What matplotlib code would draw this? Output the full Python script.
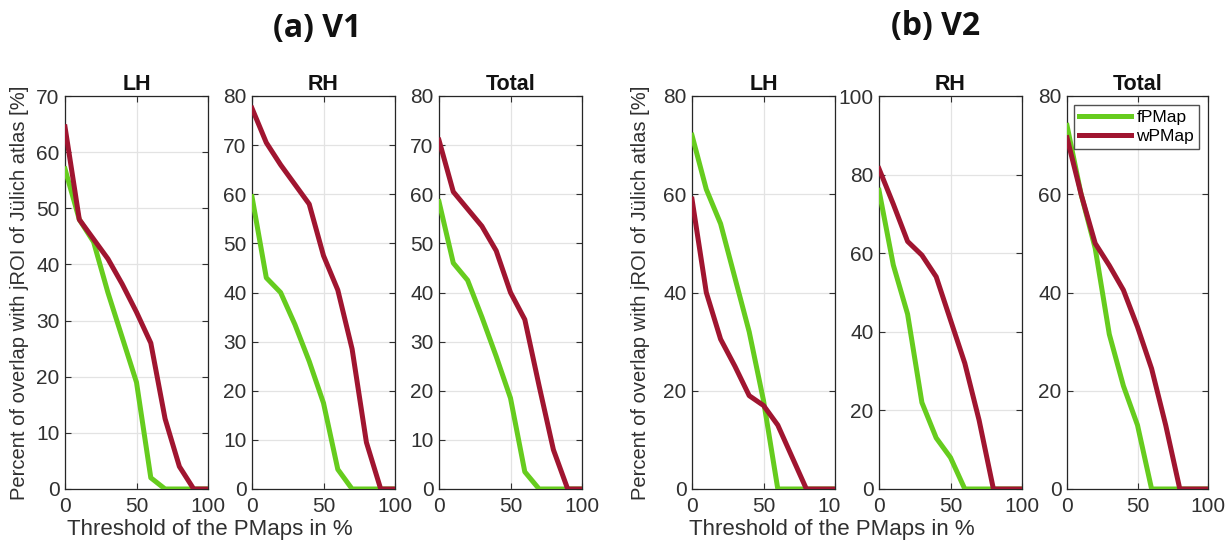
import matplotlib
matplotlib.use("Agg")
import matplotlib.pyplot as plt
from matplotlib.patches import Rectangle
import numpy as np

thresholds = [0, 10, 20, 30, 40, 50, 60, 70, 80, 90, 100]

# (a) V1
v1_lh_f = [57, 48, 44, 35, 27, 19, 2, 0, 0, 0, 0]
v1_lh_w = [64.5, 48, 44.5, 41, 36.5, 31.5, 26, 12.5, 4, 0, 0]
v1_rh_f = [59.5, 43, 40, 33.5, 26, 17.5, 4, 0, 0, 0, 0]
v1_rh_w = [77.5, 70.5, 66, 62, 58, 47.5, 40.5, 28.5, 9.5, 0, 0]
v1_tot_f = [58.5, 46, 42.5, 35, 27, 18.5, 3.5, 0, 0, 0, 0]
v1_tot_w = [71, 60.5, 57, 53.5, 48.5, 40, 34.5, 21, 8, 0, 0]

# (b) V2
v2_lh_f = [72, 61, 54, 43, 32, 18, 0, 0, 0, 0, 0]
v2_lh_w = [59, 40, 30.5, 25, 19, 17, 13, 6.5, 0, 0, 0]
v2_rh_f = [76, 57, 44.5, 22, 13, 8, 0, 0, 0, 0, 0]
v2_rh_w = [81.5, 72.5, 63, 59.5, 54, 43, 32, 17.5, 0, 0, 0]
v2_tot_f = [74, 60, 49, 31.5, 21, 13, 0, 0, 0, 0, 0]
v2_tot_w = [71.5, 60, 50, 45.5, 40.5, 33, 24.5, 13, 0, 0, 0]

subtitles = ["LH", "RH", "Total"]
series_names = ["fPMap", "wPMap"]
group_titles = ["(a) V1", "(b) V2"]
ylabel = "Percent of overlap with jROI of J\u00fclich atlas [%]"
xlabel = "Threshold of the PMaps in %"

GREEN = "#66cc1e"
RED = "#a01530"
TXT = "#303030"

plt.rcParams['font.family'] = ['Liberation Sans', 'DejaVu Sans']

W, H = 1232, 542
fig = plt.figure(figsize=(W / 100, H / 100), dpi=100)

def add_ax(x0, x1, y0, y1):
    return fig.add_axes([x0 / W, 1 - y1 / H, (x1 - x0) / W, (y1 - y0) / H])

panels = [
    # (x0, x1, f, w, ymax, ystep)
    (65, 208, v1_lh_f, v1_lh_w, 70, 10),
    (252, 395, v1_rh_f, v1_rh_w, 80, 10),
    (439, 582, v1_tot_f, v1_tot_w, 80, 10),
    (692, 835, v2_lh_f, v2_lh_w, 80, 20),
    (879, 1022, v2_rh_f, v2_rh_w, 100, 20),
    (1067, 1208, v2_tot_f, v2_tot_w, 80, 20),
]

axes = []
for i, (x0, x1, f, w, ymax, ystep) in enumerate(panels):
    ax = add_ax(x0, x1, 96, 489)
    ax.plot(thresholds, f, color=GREEN, lw=3.6, label=series_names[0], zorder=3)
    ax.plot(thresholds, w, color=RED, lw=3.6, label=series_names[1], zorder=3)
    ax.set_xlim(0, 100)
    ax.set_ylim(0, ymax)
    ax.set_xticks([0, 50, 100])
    ax.set_yticks(np.arange(0, ymax + 1, ystep))
    ax.grid(True, color="#e3e3e3", lw=0.9)
    ax.set_axisbelow(True)
    ax.tick_params(direction='in', top=True, right=True, length=4, width=0.8,
                   labelsize=15, colors=TXT, pad=4)
    ax.tick_params(axis='x', pad=6)
    for sp in ax.spines.values():
        sp.set_color("#262626")
        sp.set_linewidth(0.9)
    ax.set_title(subtitles[i % 3], fontsize=15.5, fontweight='bold', pad=4, color="#111111")
    axes.append(ax)

axes[5].legend(loc='upper right', fontsize=12.5, frameon=True, fancybox=False,
               edgecolor="#262626", handlelength=3.0, borderpad=0.3,
               labelspacing=0.2, handletextpad=0.3, borderaxespad=0.5)

# y labels
fig.text(20 / W, 1 - 293 / H, ylabel, rotation=90, ha='center', va='center', fontsize=14.5, color=TXT)
fig.text(641 / W, 1 - 293 / H, ylabel, rotation=90, ha='center', va='center', fontsize=14.5, color=TXT)
# x labels
fig.text(210 / W, 1 - 529 / H, xlabel, ha='center', va='center', fontsize=16, color=TXT)
fig.text(832 / W, 1 - 529 / H, xlabel, ha='center', va='center', fontsize=16, color=TXT)
# group titles
fig.text(317 / W, 1 - 29 / H, group_titles[0], ha='center', va='center', fontsize=23, fontweight='bold',
         family=['Open Sans', 'DejaVu Sans'], color="#111111")
fig.text(936 / W, 1 - 26 / H, group_titles[1], ha='center', va='center', fontsize=23, fontweight='bold',
         family=['Open Sans', 'DejaVu Sans'], color="#111111")

# the reference clips the last digit of the V2-LH "100" tick label
fig.patches.append(Rectangle((840 / W, 1 - 520 / H), 22 / W, 26 / H, transform=fig.transFigure,
                             facecolor='white', edgecolor='none', zorder=10))

fig.savefig("out.png", dpi=100)
